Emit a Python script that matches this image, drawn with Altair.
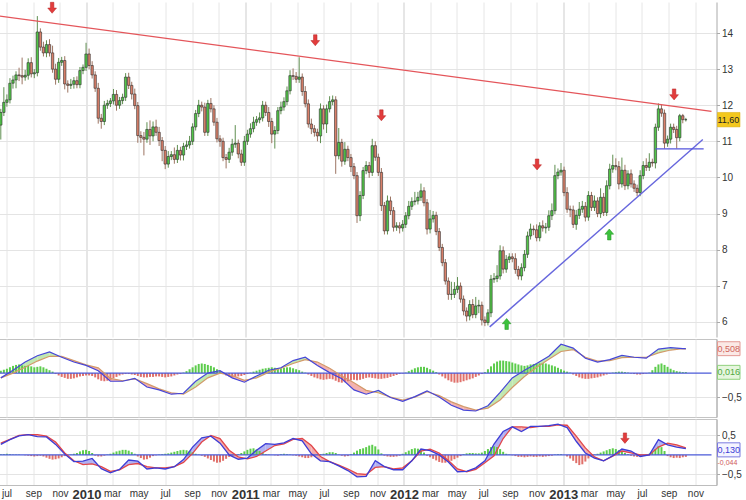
import altair as alt
import pandas as pd

# ---------------- data (weekly candles) ----------------
START = pd.Timestamp("2009-06-18")
first_open = 11.45
close = [
    11.80, 12.08, 12.15, 12.61, 12.70, 12.84, 12.82, 12.78, 12.83, 13.18,
    12.87, 12.90, 14.03, 13.61, 13.45, 13.68, 13.45, 13.00, 12.72, 13.19,
    13.24, 12.59, 12.55, 12.58, 12.68, 12.57, 12.96, 13.05, 13.42, 13.10,
    12.84, 12.47, 11.64, 11.55, 12.00, 12.05, 12.12, 12.30, 12.00, 12.13,
    12.22, 12.78, 12.55, 12.31, 11.99, 11.16, 11.11, 11.06, 11.33, 11.15,
    11.40, 11.25, 11.02, 10.75, 10.37, 10.58, 10.63, 10.50, 10.75, 10.62,
    10.86, 10.90, 11.00, 11.40, 11.77, 12.00, 11.95, 11.25, 12.05, 11.90,
    11.53, 11.07, 11.00, 10.55, 10.50, 10.70, 10.92, 10.95, 10.65, 10.42,
    11.00, 11.20, 11.35, 11.53, 11.60, 11.65, 12.00, 11.80, 11.55, 11.20,
    11.30, 11.85, 11.95, 12.10, 12.40, 12.82, 12.80, 12.72, 12.78, 12.38,
    12.04, 11.48, 11.35, 11.25, 11.15, 11.90, 11.48, 11.90, 12.10, 12.15,
    10.60, 10.97, 10.45, 10.78, 10.55, 10.30, 10.05, 8.94, 9.50, 10.19,
    10.33, 10.14, 10.88, 10.56, 10.14, 9.22, 8.52, 9.35, 9.08, 8.62,
    8.66, 8.60, 8.70, 8.94, 9.20, 9.33, 9.35, 9.45, 9.63, 9.30,
    8.57, 8.85, 8.95, 8.50, 8.06, 7.64, 7.13, 6.76, 6.76, 6.90,
    6.99, 6.63, 6.30, 6.16, 6.48, 6.20, 6.44, 6.46, 6.05, 5.98,
    6.25, 7.18, 7.20, 7.27, 7.97, 7.46, 7.73, 7.80, 7.75, 7.45,
    7.27, 7.50, 7.87, 8.38, 8.57, 8.55, 8.33, 8.66, 8.60, 8.62,
    8.94, 9.08, 10.05, 10.15, 10.20, 9.58, 9.12, 9.10, 8.70, 8.95,
    9.12, 9.20, 8.90, 9.50, 9.17, 9.35, 9.00, 9.45, 9.03, 9.77,
    10.23, 10.33, 10.30, 9.82, 10.20, 9.77, 10.10, 9.82, 9.70, 9.58,
    10.05, 10.33, 10.28, 10.42, 10.40, 11.39, 11.90, 11.78, 10.95, 11.06,
    11.39, 11.33, 11.10, 11.71, 11.60, 11.60,
]
up_wick = [
    0.10, 0.42, 0.15, 0.14, 0.12, 0.10, 0.20, 0.50, 0.15, 0.12,
    0.15, 0.10, 0.44, 0.10, 0.15, 0.12, 0.15, 0.20, 0.15, 0.12,
    0.10, 0.12, 0.10, 0.15, 0.10, 0.12, 0.10, 0.08, 0.31, 0.15,
    0.12, 0.10, 0.15, 0.12, 0.12, 0.10, 0.08, 0.15, 0.12, 0.10,
    0.10, 0.11, 0.12, 0.10, 0.15, 0.10, 0.12, 0.15, 0.20, 0.25,
    0.15, 0.20, 0.15, 0.10, 0.12, 0.15, 0.10, 0.20, 0.15, 0.10,
    0.10, 0.12, 0.15, 0.10, 0.10, 0.15, 0.10, 0.12, 0.10, 0.15,
    0.10, 0.12, 0.10, 0.10, 0.10, 0.12, 0.15, 0.50, 0.10, 0.12,
    0.15, 0.12, 0.15, 0.15, 0.10, 0.15, 0.12, 0.10, 0.15, 0.10,
    0.12, 0.10, 0.15, 0.12, 0.12, 0.15, 0.20, 0.12, 0.55, 0.10,
    0.15, 0.12, 0.15, 0.10, 0.10, 0.15, 0.10, 0.12, 0.15, 0.12,
    0.10, 0.40, 0.10, 0.20, 0.10, 0.10, 0.10, 0.10, 0.12, 0.10,
    0.12, 0.10, 0.19, 0.12, 0.10, 0.12, 0.10, 0.15, 0.12, 0.10,
    0.10, 0.10, 0.12, 0.10, 0.15, 0.12, 0.25, 0.15, 0.20, 0.10,
    0.10, 0.25, 0.12, 0.10, 0.10, 0.10, 0.10, 0.10, 0.35, 0.20,
    0.25, 0.10, 0.10, 0.10, 0.12, 0.15, 0.25, 0.15, 0.10, 0.10,
    0.10, 0.12, 0.15, 0.30, 0.15, 0.12, 0.12, 0.10, 0.10, 0.15,
    0.10, 0.12, 0.12, 0.12, 0.15, 0.10, 0.15, 0.10, 0.15, 0.12,
    0.15, 0.20, 0.30, 0.10, 0.20, 0.10, 0.15, 0.10, 0.12, 0.15,
    0.20, 0.15, 0.12, 0.12, 0.10, 0.15, 0.10, 0.25, 0.12, 0.15,
    0.15, 0.30, 0.20, 0.15, 0.35, 0.15, 0.10, 0.12, 0.10, 0.10,
    0.15, 0.12, 0.20, 0.25, 0.10, 0.10, 0.15, 0.12, 0.10, 0.10,
    0.10, 0.10, 0.10, 0.05, 0.05, 0.05,
]
dn_wick = [
    0.40, 0.10, 0.12, 0.10, 0.15, 0.23, 0.15, 0.20, 0.10, 0.12,
    0.10, 0.12, 0.10, 0.10, 0.10, 0.12, 0.10, 0.10, 0.15, 0.10,
    0.10, 0.15, 0.20, 0.10, 0.12, 0.10, 0.10, 0.10, 0.10, 0.10,
    0.10, 0.10, 0.15, 0.20, 0.10, 0.10, 0.10, 0.10, 0.15, 0.10,
    0.10, 0.10, 0.10, 0.15, 0.10, 0.20, 0.15, 0.45, 0.10, 0.25,
    0.15, 0.10, 0.15, 0.30, 0.14, 0.10, 0.10, 0.12, 0.10, 0.15,
    0.15, 0.10, 0.10, 0.10, 0.10, 0.10, 0.12, 0.10, 0.10, 0.10,
    0.10, 0.10, 0.15, 0.10, 0.25, 0.10, 0.10, 0.10, 0.12, 0.10,
    0.10, 0.10, 0.10, 0.10, 0.10, 0.10, 0.10, 0.10, 0.15, 0.25,
    0.40, 0.10, 0.10, 0.10, 0.10, 0.10, 0.10, 0.10, 0.10, 0.12,
    0.10, 0.10, 0.15, 0.12, 0.15, 0.20, 0.15, 0.25, 0.10, 0.10,
    0.50, 0.10, 0.15, 0.10, 0.10, 0.15, 0.10, 0.20, 0.15, 0.10,
    0.10, 0.15, 0.10, 0.10, 0.10, 0.15, 0.10, 0.10, 0.12, 0.12,
    0.10, 0.15, 0.10, 0.10, 0.10, 0.10, 0.10, 0.10, 0.10, 0.10,
    0.15, 0.12, 0.10, 0.10, 0.10, 0.10, 0.10, 0.15, 0.15, 0.10,
    0.10, 0.10, 0.12, 0.15, 0.12, 0.10, 0.10, 0.20, 0.15, 0.10,
    0.08, 0.12, 0.10, 0.10, 0.10, 0.12, 0.10, 0.10, 0.10, 0.12,
    0.10, 0.12, 0.10, 0.10, 0.10, 0.15, 0.10, 0.10, 0.10, 0.15,
    0.10, 0.12, 0.10, 0.10, 0.10, 0.10, 0.10, 0.20, 0.10, 0.15,
    0.10, 0.10, 0.12, 0.10, 0.10, 0.10, 0.10, 0.12, 0.10, 0.10,
    0.10, 0.10, 0.10, 0.15, 0.10, 0.12, 0.10, 0.10, 0.10, 0.10,
    0.10, 0.10, 0.10, 0.10, 0.10, 0.15, 0.10, 0.10, 0.15, 0.10,
    0.12, 0.10, 0.30, 0.10, 0.10, 0.05,
]

# trend lines (date, price)
resist_dates = ["2009-06-15", "2013-12-08"]
resist_prices = [14.47, 11.83]
support_dates = ["2012-07-16", "2013-11-18"]
support_prices = [5.86, 11.05]
floor_dates = ["2013-08-01", "2013-11-20"]
floor_prices = [10.79, 10.79]

# signal arrows
down_dates = ["2009-10-14", "2011-06-11", "2011-11-10", "2012-11-02", "2013-09-13"]
down_prices = [14.70, 13.80, 11.72, 10.36, 12.30]
up_dates = ["2012-08-24", "2013-04-17"]
up_prices = [5.94, 8.42]
osc_arrow_dates = ["2013-05-23"]
osc_arrow_vals = [0.43]

last_price = 11.60

# MACD panel (sampled every 4 weeks)
macd_weeks = list(range(0, 225, 4)) + [225]
macd = [-0.10, 0.06, 0.23, 0.36, 0.44, 0.33, 0.23, 0.16, 0.05, -0.17,
        -0.17, -0.11, -0.29, -0.35, -0.44, -0.42, -0.17, 0.00, 0.05, -0.10,
        -0.19, -0.06, 0.06, 0.11, 0.26, 0.33, 0.16, 0.01, -0.12, -0.35,
        -0.44, -0.36, -0.51, -0.59, -0.49, -0.37, -0.50, -0.67, -0.77, -0.79,
        -0.68, -0.40, -0.10, 0.06, 0.20, 0.35, 0.60, 0.52, 0.31, 0.23,
        0.28, 0.37, 0.33, 0.31, 0.50, 0.53, 0.51, 0.51]
signal = [-0.10, 0.00, 0.12, 0.25, 0.35, 0.35, 0.26, 0.17, 0.11, -0.11,
          -0.16, -0.12, -0.22, -0.33, -0.41, -0.44, -0.29, -0.10, 0.00, -0.05,
          -0.15, -0.10, 0.02, 0.10, 0.20, 0.28, 0.23, 0.10, -0.06, -0.20,
          -0.36, -0.41, -0.50, -0.56, -0.50, -0.39, -0.47, -0.60, -0.70, -0.77,
          -0.73, -0.56, -0.30, -0.07, 0.12, 0.29, 0.45, 0.49, 0.33, 0.25,
          0.26, 0.32, 0.33, 0.33, 0.42, 0.48, 0.51, 0.50]
macd_hist = [
    0.05, 0.07, 0.09, 0.12, 0.15, 0.17, 0.18, 0.16, 0.15, 0.15, 0.14, 0.12, 0.13, 0.14, 0.12, 0.09, 0.06, 0.03,
    -0.02, -0.05, -0.08, -0.10, -0.12, -0.12, -0.11, -0.09, -0.07, -0.06, -0.05, -0.05, -0.06, -0.09,
    -0.13, -0.16, -0.17, -0.16, -0.14, -0.11, -0.08, -0.05, -0.03,
    -0.02, -0.02, -0.03, -0.04,
    -0.06, -0.08, -0.09, -0.09, -0.08, -0.08, -0.07, -0.07, -0.08, -0.09, -0.08, -0.07, -0.05, -0.03, -0.02, 0.01,
    0.04, 0.08, 0.12, 0.16, 0.19, 0.20, 0.19, 0.17, 0.15, 0.12, 0.08, 0.04,
    -0.02, -0.05, -0.07, -0.08, -0.08, -0.07, -0.06, -0.04, -0.02, 0.01,
    0.03, 0.05, 0.07, 0.09, 0.10, 0.11, 0.12, 0.11, 0.10, 0.10, 0.11, 0.12, 0.12, 0.10, 0.08, 0.06, 0.03, 0.01,
    -0.03, -0.06, -0.09, -0.11, -0.13, -0.14, -0.13, -0.12, -0.13, -0.16, -0.19, -0.20, -0.19, -0.17, -0.15, -0.14, -0.15, -0.14, -0.12,
    -0.10, -0.09, -0.10, -0.11, -0.12, -0.12, -0.11, -0.10, -0.08, -0.06, -0.04, -0.02, -0.01, 0.01,
    0.04, 0.07, 0.10, 0.12, 0.13, 0.13, 0.11, 0.08, 0.05, 0.02,
    -0.03, -0.07, -0.11, -0.15, -0.18, -0.20, -0.20, -0.19, -0.17, -0.15, -0.13, -0.11, -0.08, -0.05, -0.02,
    0.02, 0.08, 0.14, 0.20, 0.24, 0.26, 0.26, 0.25, 0.24, 0.22, 0.20, 0.18, 0.16, 0.15, 0.16, 0.18, 0.19, 0.20,
    0.20, 0.21, 0.20, 0.18, 0.16, 0.14, 0.11, 0.08, 0.05, 0.03, 0.01,
    -0.03, -0.06, -0.09, -0.11, -0.12, -0.12, -0.11, -0.10, -0.09, -0.07, -0.05, -0.03, -0.01,
    0.01, 0.02, 0.03, 0.03, 0.02, 0.01,
    -0.01, -0.02, -0.03, -0.03, -0.02, -0.01, 0.01,
    0.06, 0.13, 0.18, 0.20, 0.17, 0.13, 0.09, 0.06, 0.04, 0.03, 0.02, 0.02,
]
macd_last = 0.508
macd_hist_last = 0.016

# fast oscillator panel (sampled every 3 weeks)
osc_weeks = list(range(0, 226, 3))
osc_fast = [0.27, 0.39, 0.49, 0.52, 0.47, 0.46, 0.27, 0.02, -0.17, -0.16,
            -0.09, -0.35, -0.46, -0.37, -0.13, -0.16, -0.36, -0.33, -0.36, -0.30,
            -0.12, 0.20, 0.44, 0.48, 0.30, 0.00, -0.11, -0.08, 0.12, 0.29,
            0.27, 0.31, 0.42, 0.36, 0.03, -0.15, -0.17, -0.28, -0.40, -0.56,
            -0.55, -0.15, -0.30, -0.38, -0.38, -0.15, 0.15, 0.11, 0.00, -0.18,
            -0.43, -0.42, -0.33, -0.15, 0.28, 0.60, 0.72, 0.60, 0.73, 0.73,
            0.75, 0.79, 0.70, 0.35, 0.05, -0.08, -0.15, -0.02, 0.15, 0.10,
            -0.04, 0.00, 0.39, 0.26, 0.20, 0.16]
osc_slow = [0.30, 0.40, 0.50, 0.52, 0.52, 0.48, 0.33, 0.05, -0.15, -0.25,
            -0.23, -0.30, -0.42, -0.38, -0.25, -0.22, -0.30, -0.33, -0.33, -0.30,
            -0.19, 0.04, 0.33, 0.50, 0.42, 0.12, -0.05, -0.10, -0.04, 0.10,
            0.24, 0.28, 0.40, 0.42, 0.24, -0.04, -0.17, -0.26, -0.36, -0.48,
            -0.50, -0.32, -0.30, -0.36, -0.33, -0.15, 0.10, 0.15, 0.05, -0.14,
            -0.36, -0.43, -0.37, -0.20, -0.02, 0.42, 0.72, 0.72, 0.70, 0.73,
            0.73, 0.77, 0.76, 0.48, 0.18, -0.05, -0.15, -0.03, 0.10, 0.05,
            0.00, 0.00, 0.20, 0.30, 0.26, 0.18]
osc_hist = [
    0.02, 0.02, 0.03, 0.02, 0.01, 0.01, 0.01, 0.00, -0.01, -0.02,
    -0.03, -0.04, -0.03, -0.02,
    -0.04, -0.07, -0.10, -0.12, -0.11, -0.09, -0.06, -0.03,
    -0.01, 0.01, 0.03, 0.05,
    0.09, 0.12, 0.13, 0.10, 0.05,
    -0.02, -0.04, -0.04, -0.02, 0.01, 0.03,
    0.06, 0.09, 0.11, 0.13, 0.13, 0.11, 0.07, 0.03,
    -0.04, -0.08, -0.12, -0.11, -0.07, -0.03,
    -0.01, 0.01, 0.02, 0.03, 0.04,
    0.06, 0.08, 0.10, 0.12, 0.13, 0.12, 0.10, 0.07, 0.03,
    0.01, -0.02, -0.05, -0.09,
    -0.13, -0.17, -0.20, -0.19, -0.15, -0.10, -0.05,
    -0.02, 0.00, 0.02, 0.05,
    0.09, 0.13, 0.16, 0.17, 0.14, 0.10, 0.05,
    0.02, 0.01, 0.00, -0.01, -0.02, 0.02, 0.03, 0.02, 0.01, -0.01, -0.02, -0.04,
    -0.06, -0.08, -0.08, -0.06, -0.03,
    0.01, 0.02, 0.03, 0.05,
    0.07, 0.07, 0.05,
    0.01, -0.02, -0.04, -0.03, 0.02,
    0.06, 0.11, 0.15, 0.17, 0.20, 0.24, 0.26, 0.22, 0.14,
    0.04, -0.02, -0.04, -0.05, -0.05, -0.04, -0.02,
    0.03, 0.07, 0.11, 0.15, 0.17, 0.16, 0.12, 0.06,
    -0.02, -0.06, -0.10, -0.14, -0.18, -0.20, -0.20, -0.18, -0.15, -0.11, -0.07, -0.03,
    0.02, 0.04, 0.05, 0.05, 0.04, 0.04, 0.06,
    0.10, 0.15, 0.20, 0.22, 0.20, 0.15, 0.08,
    0.03, 0.01, -0.01,
    -0.03, -0.05, -0.05, -0.06, -0.05, -0.04, -0.05, -0.05, -0.04, -0.05, -0.04, -0.03, -0.02,
    0.01, 0.02, 0.02, 0.00, -0.04,
    -0.09, -0.15, -0.21, -0.26, -0.24, -0.17, -0.09,
    -0.03, 0.01, 0.03, 0.06,
    0.09, 0.12, 0.15, 0.17, 0.15, 0.12, 0.08, 0.05, 0.02,
    -0.02, -0.04, -0.05, -0.03, -0.01, 0.01, 0.03,
    0.08, 0.15, 0.22, 0.20, 0.10, -0.03, -0.06, -0.08, -0.07, -0.08, -0.06, -0.05,
]
osc_fast_last = 0.130
osc_slow_last = -0.044

# ---------------- helpers ----------------
def wdate(w):
    return (START + pd.Timedelta(days=7 * w)).strftime("%Y-%m-%dT%H:%M:%S")


def iso(d):
    return pd.Timestamp(d).strftime("%Y-%m-%dT%H:%M:%S")


def comma(v, nd):
    return f"{v:.{nd}f}".replace(".", ",")


rows = []
prev = first_open
for i, c in enumerate(close):
    o = prev
    rows.append(dict(date=wdate(i), open=o, close=c,
                     high=max(o, c) + up_wick[i], low=min(o, c) - dn_wick[i]))
    prev = c
candles = pd.DataFrame(rows)


def fill_segments(weeks, a, b):
    out = []
    seg = 0
    for i in range(len(weeks) - 1):
        w0, w1 = weeks[i], weeks[i + 1]
        d0, d1 = a[i] - b[i], a[i + 1] - b[i + 1]
        if d0 * d1 < 0:
            t = d0 / (d0 - d1)
            wc = w0 + t * (w1 - w0)
            yc = a[i] + t * (a[i + 1] - a[i])
            pieces = [((w0, a[i], b[i]), (wc, yc, yc), d0),
                      ((wc, yc, yc), (w1, a[i + 1], b[i + 1]), d1)]
        else:
            pieces = [((w0, a[i], b[i]), (w1, a[i + 1], b[i + 1]), d0 + d1)]
        for p, q, d in pieces:
            sgn = "pos" if d >= 0 else "neg"
            for (w, ya, yb) in (p, q):
                out.append(dict(date=wdate(w), a=ya, b=yb, seg=seg, sign=sgn))
            seg += 1
    return pd.DataFrame(out)


FONT = "Liberation Sans"
W = 722
X_DOMAIN = [alt.DateTime(year=2009, month=6, date=15), alt.DateTime(year=2013, month=12, date=8)]
x_scale = alt.Scale(domain=X_DOMAIN, nice=False)
tick_vals = []
for yy in range(2009, 2014):
    for mm in (1, 3, 5, 7, 9, 11):
        if (yy == 2009 and mm < 7):
            continue
        tick_vals.append(alt.DateTime(year=yy, month=mm, date=1))

grid_col = {"condition": {"test": "month(datum.value) == 0", "value": "#cdcdcd"}, "value": "#e6e6e6"}
x_axis_hidden = alt.Axis(values=tick_vals, labels=False, ticks=False, domain=False,
                         grid=True, gridColor=grid_col, title=None)
x_axis_bottom = alt.Axis(
    values=tick_vals, ticks=False, domain=True, domainColor="#bdbdbd",
    grid=True, gridColor=grid_col, title=None, labelOverlap=False, labelBound=False,
    labelFlush=False,
    labelExpr="month(datum.value) == 0 ? timeFormat(datum.value, '%Y') : lower(timeFormat(datum.value, '%b'))",
    labelFontWeight={"condition": {"test": "month(datum.value) == 0", "value": "bold"}, "value": "normal"},
    labelFontSize={"condition": {"test": "month(datum.value) == 0", "value": 13}, "value": 10},
    labelColor="#333333", labelPadding=3, labelFont=FONT,
)

GREEN = "#52c548"
RED = "#d9806a"
LBL = 9  # font size of the value tags on the right


def right_axis(values, fmt=None):
    kw = dict(orient="right", values=values, tickSize=3, tickColor="#aaaaaa",
              domainColor="#aaaaaa", labelFontSize=10, labelColor="#333333", labelFont=FONT,
              gridColor="#e4e4e4", title=None, labelPadding=2)
    if fmt:
        kw["labelExpr"] = fmt
    return alt.Axis(**kw)


COMMA_EXPR = "replace(format(datum.value, '.1f'), '.', ',')"

# ---------------- main price panel ----------------
y_scale = alt.Scale(domain=[5.58, 14.86], nice=False, zero=False)
y_axis = right_axis(list(range(6, 15)))


def X(field="date"):
    return alt.X(f"{field}:T", scale=x_scale, axis=x_axis_hidden)


def Y(field):
    return alt.Y(f"{field}:Q", scale=y_scale, axis=y_axis)


is_up = "datum.close >= datum.open"
wicks = alt.Chart(candles).mark_rule(strokeWidth=1).encode(
    x=X(), y=Y("low"), y2="high:Q",
    color=alt.condition(is_up, alt.value("#5f8f50"), alt.value("#9c7462")),
)
bodies = alt.Chart(candles).mark_bar(size=2.4, stroke="#2e2e2e", strokeWidth=0.6).encode(
    x=X(), y=Y("open"), y2="close:Q",
    color=alt.condition(is_up, alt.value(GREEN), alt.value(RED)),
)


def tline(dates, prices, color, width):
    df = pd.DataFrame({"date": [iso(d) for d in dates], "price": prices})
    return alt.Chart(df).mark_line(color=color, strokeWidth=width).encode(x=X(), y=Y("price"))


red_line = tline(resist_dates, resist_prices, "#e4555a", 1.4)
blue_line = tline(support_dates, support_prices, "#6666dd", 1.4)
floor_line = tline(floor_dates, floor_prices, "#5555dd", 1.4)

ARROW_DOWN = "M-0.32,-1L0.32,-1L0.32,0.05L0.8,0.05L0,1L-0.8,0.05L-0.32,0.05Z"
ARROW_UP = "M-0.32,1L0.32,1L0.32,-0.05L0.8,-0.05L0,-1L-0.8,-0.05L-0.32,-0.05Z"

dn_df = pd.DataFrame({"date": [iso(d) for d in down_dates], "price": down_prices})
up_df = pd.DataFrame({"date": [iso(d) for d in up_dates], "price": up_prices})
arrows_dn = alt.Chart(dn_df).mark_point(shape=ARROW_DOWN, filled=True, size=120, color="#e23c3c",
                                        stroke="#b52424", strokeWidth=0.5, opacity=1).encode(
    x=X(), y=Y("price"))
arrows_up = alt.Chart(up_df).mark_point(shape=ARROW_UP, filled=True, size=120, color="#3cc23c",
                                        stroke="#239023", strokeWidth=0.5, opacity=1).encode(
    x=X(), y=Y("price"))

pbox_df = pd.DataFrame({"price": [last_price], "top": [last_price + 0.2], "bot": [last_price - 0.2],
                        "label": [comma(last_price, 2)]})
price_box = alt.Chart(pbox_df).mark_rect(color="#f3c81e", stroke="#d8a800", strokeWidth=0.5).encode(
    x=alt.value(W + 1), x2=alt.value(W + 23.5), y=Y("top"), y2="bot:Q")
price_txt = alt.Chart(pbox_df).mark_text(align="left", baseline="middle", fontSize=LBL, font=FONT,
                                         color="#222222").encode(
    x=alt.value(W + 1), y=Y("price"), text="label:N")

main = alt.layer(wicks, bodies, red_line, blue_line, floor_line, arrows_dn, arrows_up,
                 price_box, price_txt).properties(width=W, height=335,
                                                   view=alt.ViewBackground(stroke="transparent"))

# ---------------- MACD panel ----------------
m_scale = alt.Scale(domain=[-0.915, 0.71], nice=False, zero=False)
m_axis = right_axis([-0.5], COMMA_EXPR)


def MY(field):
    return alt.Y(f"{field}:Q", scale=m_scale, axis=m_axis)


hist2_df = pd.DataFrame({"date": [wdate(i) for i in range(len(macd_hist))], "h": macd_hist,
                         "base": [0.0] * len(macd_hist)})
hist2 = alt.Chart(hist2_df).mark_bar(size=2).encode(
    x=X(), y=MY("h"), y2="base:Q",
    color=alt.condition("datum.h >= 0", alt.value("#5ccc4c"), alt.value("#e0706a")))
fill2 = alt.Chart(fill_segments(macd_weeks, macd, signal)).mark_area(opacity=0.9).encode(
    x=X(), y=MY("a"), y2="b:Q", detail="seg:N",
    color=alt.Color("sign:N", scale=alt.Scale(domain=["pos", "neg"], range=["#b9e6a9", "#f2aaa6"]),
                    legend=None))
lines2_df = pd.DataFrame({"date": [wdate(w) for w in macd_weeks], "macd": macd, "signal": signal})
sig_line = alt.Chart(lines2_df).mark_line(color="#d39a6a", strokeWidth=1.2).encode(x=X(), y=MY("signal"))
macd_line = alt.Chart(lines2_df).mark_line(color="#4646d8", strokeWidth=1.2).encode(x=X(), y=MY("macd"))
zero_df = pd.DataFrame({"date": [iso(resist_dates[0]), iso(resist_dates[1])], "base": [0.0, 0.0]})
zero2 = alt.Chart(zero_df).mark_line(color="#4a5ad8", strokeWidth=1.2).encode(x=X(), y=MY("base"))

lab2_df = pd.DataFrame({
    "v": [macd_last, macd_hist_last],
    "top": [macd_last + 0.145, macd_hist_last + 0.145],
    "bot": [macd_last - 0.145, macd_hist_last - 0.145],
    "label": [comma(macd_last, 3), comma(macd_hist_last, 3)],
    "kind": ["m", "h"],
})
lab2_box = alt.Chart(lab2_df).mark_rect(strokeWidth=1).encode(
    x=alt.value(W + 1), x2=alt.value(W + 23.5), y=MY("top"), y2="bot:Q",
    fill=alt.Fill("kind:N", scale=alt.Scale(domain=["m", "h"], range=["#fbe9e6", "#e6f6de"]), legend=None),
    stroke=alt.Stroke("kind:N", scale=alt.Scale(domain=["m", "h"], range=["#e39a94", "#8fd07e"]), legend=None))
lab2_txt = alt.Chart(lab2_df).mark_text(align="left", baseline="middle", fontSize=LBL, font=FONT).encode(
    x=alt.value(W + 1), y=MY("v"), text="label:N",
    color=alt.Color("kind:N", scale=alt.Scale(domain=["m", "h"], range=["#d0655c", "#4fa842"]), legend=None))

panel2 = alt.layer(fill2, hist2, zero2, sig_line, macd_line, lab2_box, lab2_txt).resolve_scale(
    color="independent", fill="independent", stroke="independent").properties(width=W, height=78)

# ---------------- oscillator panel ----------------
o_scale = alt.Scale(domain=[-0.77, 0.92], nice=False, zero=False)
o_axis = right_axis([-0.5, 0.5], COMMA_EXPR)


def OX(field="date"):
    return alt.X(f"{field}:T", scale=x_scale, axis=x_axis_bottom)


def OY(field):
    return alt.Y(f"{field}:Q", scale=o_scale, axis=o_axis)


hist3_df = pd.DataFrame({"date": [wdate(i) for i in range(len(osc_hist))], "h": osc_hist,
                         "base": [0.0] * len(osc_hist)})
hist3 = alt.Chart(hist3_df).mark_bar(size=2).encode(
    x=OX(), y=OY("h"), y2="base:Q",
    color=alt.condition("datum.h >= 0", alt.value("#5ccc4c"), alt.value("#e0706a")))
fill3 = alt.Chart(fill_segments(osc_weeks, osc_fast, osc_slow)).mark_area(opacity=0.9).encode(
    x=OX(), y=OY("a"), y2="b:Q", detail="seg:N",
    color=alt.Color("sign:N", scale=alt.Scale(domain=["pos", "neg"], range=["#a9a9f0", "#f2a2a2"]),
                    legend=None))
lines3_df = pd.DataFrame({"date": [wdate(w) for w in osc_weeks], "fast": osc_fast, "slow": osc_slow})
slow_line = alt.Chart(lines3_df).mark_line(color="#e2474a", strokeWidth=1.3).encode(x=OX(), y=OY("slow"))
fast_line = alt.Chart(lines3_df).mark_line(color="#3d3dd6", strokeWidth=1.3).encode(x=OX(), y=OY("fast"))
zero3 = alt.Chart(zero_df).mark_line(color="#4a5ad8", strokeWidth=1.2).encode(x=OX(), y=OY("base"))

oa_df = pd.DataFrame({"date": [iso(d) for d in osc_arrow_dates], "v": osc_arrow_vals})
osc_arrow = alt.Chart(oa_df).mark_point(shape=ARROW_DOWN, filled=True, size=110, color="#e23c3c",
                                        stroke="#b52424", strokeWidth=0.5, opacity=1).encode(
    x=OX(), y=OY("v"))

lab3_df = pd.DataFrame({"v": [osc_fast_last], "top": [osc_fast_last + 0.18], "bot": [osc_fast_last - 0.18],
                        "label": [comma(osc_fast_last, 3)]})
lab3_box = alt.Chart(lab3_df).mark_rect(fill="#f4f4ff", stroke="#7b7be0", strokeWidth=1).encode(
    x=alt.value(W + 1), x2=alt.value(W + 23.5), y=OY("top"), y2="bot:Q")
lab3_txt = alt.Chart(lab3_df).mark_text(align="left", baseline="middle", fontSize=LBL, font=FONT,
                                        color="#3d3dd6").encode(
    x=alt.value(W + 1), y=OY("v"), text="label:N")
lab3b_df = pd.DataFrame({"v": [osc_slow_last], "label": [comma(osc_slow_last, 3)]})
lab3b_txt = alt.Chart(lab3b_df).mark_text(align="left", baseline="top", fontSize=7, font=FONT, dy=2,
                                          color="#d05a5a").encode(
    x=alt.value(W + 1), y=OY("v"), text="label:N")

panel3 = alt.layer(fill3, hist3, zero3, slow_line, fast_line, osc_arrow, lab3_box, lab3_txt,
                   lab3b_txt).resolve_scale(color="independent").properties(width=W, height=66)

chart = alt.vconcat(main, panel2, panel3, spacing=2, bounds="flush").properties(
    padding={"left": -6.5, "top": 0, "right": 0, "bottom": 0},
    background="#ffffff",
).configure_view(stroke="#c4c4c4").configure_axis(labelFont=FONT)

chart.save("out.html", embed_options={"renderer": "svg", "actions": False})
